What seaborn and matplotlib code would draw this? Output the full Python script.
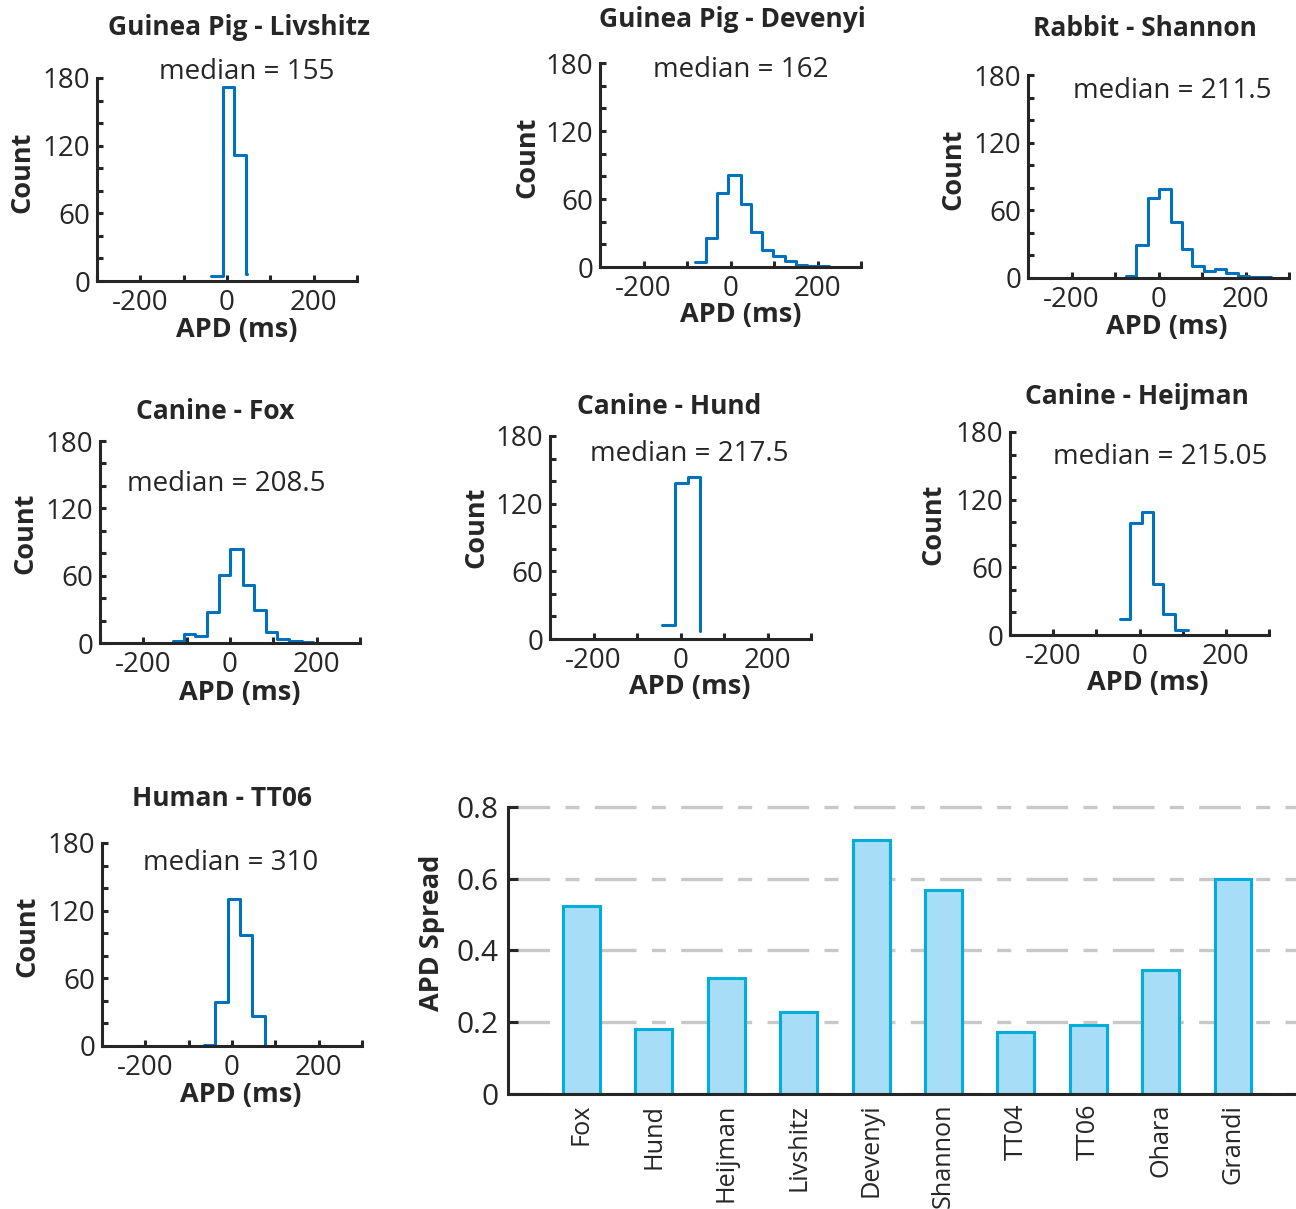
import numpy as np
import matplotlib
matplotlib.use("Agg")
import matplotlib.pyplot as plt
import seaborn as sns

# ---------------- data ----------------
titles = ["Guinea Pig - Livshitz", "Guinea Pig - Devenyi", "Rabbit - Shannon",
          "Canine - Fox", "Canine - Hund", "Canine - Heijman", "Human - TT06"]
medians = ["155", "162", "211.5", "208.5", "217.5", "215.05", "310"]

livshitz_edges = [-37, -9.5, 17, 44.5, 45.5]
livshitz_counts = [4, 172, 112, 6]
devenyi_edges = [-82, -56, -30.5, -5, 23, 48, 72, 98.5, 125, 151.5, 177, 202, 227]
devenyi_counts = [4, 26, 65, 81, 56, 31, 15, 10, 5, 2, 1, 1]
shannon_edges = [-74.5, -51, -25, 1.5, 28, 55, 78, 104, 129, 156, 182.5, 209, 234, 259]
shannon_counts = [2, 29, 71, 79, 50, 26, 11, 6, 8, 4, 2, 1, 1]
fox_edges = [-131, -105.5, -81, -54, -25.5, 0, 29, 56, 82, 108, 135, 165, 192]
fox_counts = [2, 8, 6, 28, 61, 84, 52, 29, 10, 4, 2, 1]
hund_edges = [-42, -13, 17.5, 44.5, 45.5]
hund_counts = [12, 138, 144, 7]
heijman_edges = [-46, -21.5, 6, 31, 55, 82, 111.5]
heijman_counts = [14, 99, 109, 45, 19, 4]
tt06_edges = [-65.5, -40, -9, 19, 46, 77, 78]
tt06_counts = [1, 39, 130, 98, 27, 0]

hist_x_major = [-200, 0, 200]
hist_x_minor = [-300, -100, 100, 300]
hist_y_major = [0, 60, 120, 180]
hist_y_minor = [20, 40, 80, 100, 140, 160]

models = ["Fox", "Hund", "Heijman", "Livshitz", "Devenyi", "Shannon",
          "TT04", "TT06", "Ohara", "Grandi"]
spread = [0.525, 0.182, 0.323, 0.228, 0.707, 0.569, 0.174, 0.193, 0.346, 0.600]
spread_ticks = [0, 0.2, 0.4, 0.6, 0.8]
spread_ticklabels = ["0", "0.2", "0.4", "0.6", "0.8"]

# ---------------- style ----------------
sns.set_style("ticks")
plt.rcParams["font.family"] = ["Open Sans", "DejaVu Sans"]
plt.rcParams["axes.unicode_minus"] = False

DARK = "#262626"
LINE = "#0072BD"
BAR_FILL = "#A7DDF6"
BAR_EDGE = "#00AEDB"
GRID = "#C8C8C8"
FS_TITLE = 19
FS_LABEL = 19.5
FS_MED = 20
FS_TICK = 20

W, H = 1296, 1209
fig = plt.figure(figsize=(W / 100, H / 100), dpi=100)


def add_ax(box):
    x0, x1, ytop, ybot = box
    return fig.add_axes([x0 / W, 1 - ybot / H, (x1 - x0) / W, (ybot - ytop) / H])


def fxy(box, px, py):
    x0, x1, ytop, ybot = box
    return (px - x0) / (x1 - x0), (ybot - py) / (ybot - ytop)


# layout: axes box, title (center x, baseline), median (left x, baseline),
# xlabel center, ylabel center   -- all in pixels
layout = [
    dict(box=(97, 357, 78, 281), title=(239, 35), med=(159, 79), xl=(237, 330), yl=(22, 172)),
    dict(box=(600, 861, 63, 267), title=(732, 27), med=(653, 77), xl=(741, 315), yl=(527, 157)),
    dict(box=(1028, 1289, 75, 278), title=(1145, 36), med=(1073, 98), xl=(1167, 327), yl=(953, 169)),
    dict(box=(100, 360, 441, 643), title=(215, 419), med=(127, 491), xl=(240, 693), yl=(25, 533)),
    dict(box=(550, 811, 436, 639), title=(669, 414), med=(590, 461), xl=(690, 687), yl=(476, 527)),
    dict(box=(1010, 1269, 432, 635), title=(1137, 404), med=(1053, 464), xl=(1148, 683), yl=(933, 524)),
    dict(box=(102, 362, 843, 1046), title=(222, 806), med=(143, 870), xl=(241, 1095), yl=(27, 936)),
]
hist_data = [(livshitz_edges, livshitz_counts), (devenyi_edges, devenyi_counts),
             (shannon_edges, shannon_counts), (fox_edges, fox_counts),
             (hund_edges, hund_counts), (heijman_edges, heijman_counts),
             (tt06_edges, tt06_counts)]

for lay, (edges, counts), title, med in zip(layout, hist_data, titles, medians):
    box = lay["box"]
    ax = add_ax(box)
    e = np.asarray(edges, dtype=float)
    centers = (e[:-1] + e[1:]) / 2
    sns.histplot(x=centers, weights=counts, bins=list(edges), element="step", fill=False,
                 color=LINE, linewidth=2.2, ax=ax)
    ax.set_xlim(-300, 300)
    ax.set_ylim(0, 180)
    for s in ["top", "right"]:
        ax.spines[s].set_visible(False)
    for s in ["left", "bottom"]:
        ax.spines[s].set_linewidth(2.2)
        ax.spines[s].set_color(DARK)
    ax.set_xticks(hist_x_major)
    ax.set_xticks(hist_x_minor, minor=True)
    ax.set_yticks(hist_y_major)
    ax.set_yticks(hist_y_minor, minor=True)
    ax.set_xticklabels([str(v) for v in hist_x_major])
    ax.set_yticklabels([str(v) for v in hist_y_major])
    ax.tick_params(which="both", direction="in", length=4, width=2.2, color=DARK)
    ax.tick_params(which="major", labelsize=FS_TICK, labelcolor=DARK)
    ax.tick_params(axis="x", which="major", pad=5.5)
    ax.tick_params(axis="y", which="major", pad=5)

    ax.set_xlabel("APD (ms)", fontsize=FS_LABEL, fontweight="bold", color=DARK,
                  ha="center", va="center")
    ax.xaxis.set_label_coords(*fxy(box, *lay["xl"]))
    ax.set_ylabel("Count", fontsize=FS_LABEL, fontweight="bold", color=DARK,
                  ha="center", va="center", rotation=90)
    ax.yaxis.set_label_coords(*fxy(box, *lay["yl"]))

    tx, ty = fxy(box, *lay["title"])
    t = ax.set_title(title, fontsize=FS_TITLE, fontweight="bold", color=DARK, pad=0, y=ty)
    t.set_x(tx)
    mx, my = fxy(box, *lay["med"])
    ax.text(mx, my, "median = " + med, transform=ax.transAxes, ha="left",
            va="baseline", fontsize=FS_MED, color=DARK)

# ---------------- bar chart ----------------
bbox = (508, 1296, 805, 1094)
axb = add_ax(bbox)
sns.barplot(x=models, y=spread, color=BAR_FILL, edgecolor=BAR_EDGE, linewidth=2.2,
            width=0.51, saturation=1, errorbar=None, ax=axb)
axb.set_xlim(-1.015, 9.87)
axb.set_ylim(0, 0.805)
axb.set_axisbelow(True)
axb.yaxis.grid(True, color=GRID, linewidth=2.4, linestyle=(0, (12.5, 4.6, 4.2, 4.6)))
axb.xaxis.grid(False)
for s in ["top", "right"]:
    axb.spines[s].set_visible(False)
for s in ["left", "bottom"]:
    axb.spines[s].set_linewidth(2.2)
    axb.spines[s].set_color(DARK)
axb.spines["left"].set_bounds(0, 0.8)
axb.set_yticks(spread_ticks)
axb.set_yticklabels(spread_ticklabels)
axb.set_xticks(range(len(models)))
axb.set_xticklabels(models, rotation=90, ha="center", va="top")
axb.tick_params(axis="y", direction="in", length=7, width=2.2, color=DARK,
                labelsize=21.5, labelcolor=DARK, pad=7)
axb.tick_params(axis="x", length=0, labelsize=18.2, labelcolor=DARK, pad=7)
axb.set_xlabel("")
axb.set_ylabel("APD Spread", fontsize=FS_LABEL, fontweight="bold", color=DARK,
               ha="center", va="center", rotation=90)
axb.yaxis.set_label_coords(*fxy(bbox, 432, 933))

fig.savefig("out.png", dpi=100)
